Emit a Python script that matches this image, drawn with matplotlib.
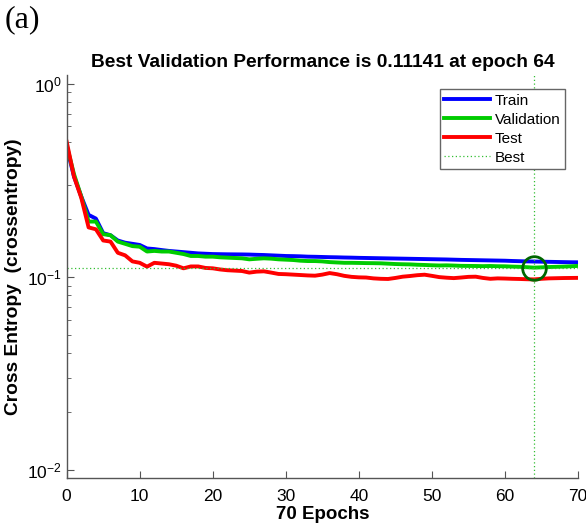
import numpy as np
import matplotlib
matplotlib.use("Agg")
import matplotlib.pyplot as plt

plt.rcParams['font.family'] = ['Liberation Sans', 'DejaVu Sans']

epochs = np.arange(0, 71)

train = [0.47, 0.33, 0.26, 0.209, 0.200, 0.168, 0.164, 0.154, 0.150, 0.148,
         0.146, 0.140, 0.139, 0.1374, 0.136, 0.135, 0.134, 0.133, 0.132, 0.1315,
         0.131, 0.1308, 0.1306, 0.1305, 0.1304, 0.1302, 0.1298, 0.1295, 0.129, 0.1285,
         0.128, 0.1278, 0.1275, 0.127, 0.1268, 0.1265, 0.1262, 0.126, 0.1257, 0.1255,
         0.1252, 0.125, 0.1248, 0.1246, 0.1244, 0.1242, 0.124, 0.1238, 0.1236, 0.1234,
         0.1232, 0.123, 0.1228, 0.1225, 0.1222, 0.122, 0.1218, 0.1216, 0.1214, 0.1212,
         0.121, 0.1206, 0.1203, 0.12, 0.1198, 0.1196, 0.1194, 0.1192, 0.119, 0.1188,
         0.1187]

validation = [0.48, 0.34, 0.26, 0.193, 0.193, 0.166, 0.164, 0.152, 0.148, 0.144,
              0.143, 0.135, 0.136, 0.135, 0.135, 0.133, 0.131, 0.128, 0.128, 0.127,
              0.127, 0.126, 0.1255, 0.125, 0.1245, 0.123, 0.1238, 0.1245, 0.124, 0.123,
              0.1225, 0.122, 0.121, 0.1205, 0.1205, 0.12, 0.119, 0.1185, 0.118, 0.118,
              0.1178, 0.1176, 0.1175, 0.1173, 0.1168, 0.1163, 0.116, 0.1158, 0.1153, 0.115,
              0.1146, 0.1143, 0.1145, 0.1142, 0.1138, 0.1137, 0.1136, 0.1134, 0.1136, 0.1133,
              0.1132, 0.1128, 0.1125, 0.112, 0.11141, 0.1118, 0.1122, 0.1125, 0.1128, 0.1132,
              0.1137]

test = [0.50, 0.33, 0.256, 0.18, 0.176, 0.154, 0.152, 0.133, 0.129, 0.12,
        0.118, 0.1127, 0.118, 0.117, 0.116, 0.114, 0.1105, 0.113, 0.113, 0.111,
        0.1105, 0.109, 0.108, 0.1075, 0.107, 0.105, 0.1062, 0.1066, 0.105, 0.1033,
        0.103, 0.1025, 0.102, 0.1015, 0.1012, 0.1025, 0.1044, 0.103, 0.101, 0.0998,
        0.0992, 0.099, 0.098, 0.0975, 0.0973, 0.0985, 0.1, 0.1008, 0.1018, 0.1024,
        0.101, 0.0995, 0.0988, 0.0983, 0.099, 0.0998, 0.1, 0.0985, 0.0975, 0.098,
        0.0978, 0.0975, 0.0973, 0.097, 0.0968, 0.0975, 0.098, 0.0982, 0.0984, 0.0985,
        0.0986]

best_epoch = 64
best_perf = 0.11141

fig = plt.figure(figsize=(5.86, 5.31), dpi=100)
ax = fig.add_axes([0.1138, 0.0998, 0.8725, 0.759])

ax.plot(epochs, train, color=(0, 0, 1), lw=2.8, label='Train')
ax.plot(epochs, validation, color=(0, 0.8, 0), lw=2.8, label='Validation')
ax.plot(epochs, test, color=(1, 0, 0), lw=2.8, label='Test')
ax.axvline(best_epoch, color=(0.2, 0.75, 0.2), ls=(0, (1, 2)), lw=0.9, label='Best')
ax.axhline(best_perf, color=(0.2, 0.75, 0.2), ls=(0, (1, 2)), lw=0.9)
ax.plot([best_epoch], [best_perf], 'o', mfc='none', mec=(0, 0.4, 0), ms=17, mew=2)

ax.set_yscale('log')
ax.set_xlim(0, 70)
ax.set_ylim(10 ** -2.043, 10 ** 0.045)
ax.set_xticks(np.arange(0, 71, 10))
ax.set_yticks([1e-2, 1e-1, 1e0])

for s in ['top', 'right']:
    ax.spines[s].set_visible(False)
for s in ['left', 'bottom']:
    ax.spines[s].set_color('#555555')
    ax.spines[s].set_linewidth(1.0)
ax.tick_params(which='both', direction='in', colors='#555555', labelcolor='black', labelsize=12.5)
ax.tick_params(which='major', length=5)
ax.tick_params(which='minor', length=3)
ax.tick_params(axis='x', pad=8)

ax.set_title('Best Validation Performance is 0.11141 at epoch 64',
             fontsize=13.8, fontweight='bold', pad=6)
ax.set_xlabel('70 Epochs', fontsize=13.5, fontweight='bold', labelpad=1)
ax.set_ylabel('Cross Entropy  (crossentropy)', fontsize=13.8, fontweight='bold', labelpad=4)

leg = ax.legend(loc='upper right', bbox_to_anchor=(0.975, 0.965), fontsize=11,
                fancybox=False, edgecolor='#666666', framealpha=1,
                handlelength=3.0, borderpad=0.3, labelspacing=0.33, handletextpad=0.3,
                borderaxespad=0)
leg.get_frame().set_linewidth(1.0)

fig.text(0.008, 0.99, '(a)', fontsize=23, family='Liberation Serif', va='top', ha='left')

fig.savefig('out.png', dpi=100)
